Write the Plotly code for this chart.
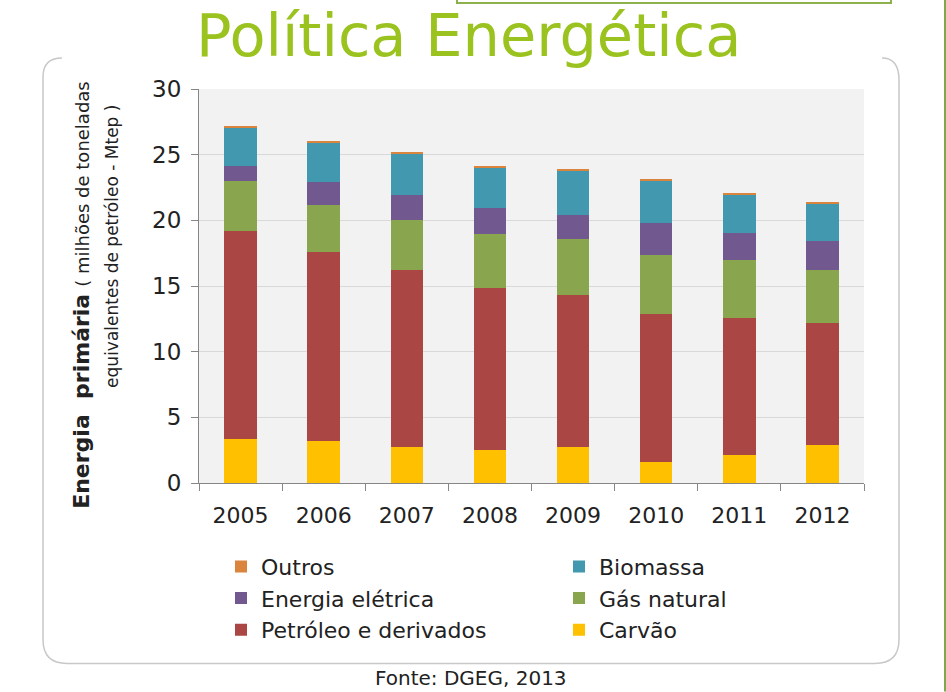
import plotly.graph_objects as go

years = ["2005", "2006", "2007", "2008", "2009", "2010", "2011", "2012"]
carvao = [3.32, 3.22, 2.76, 2.48, 2.74, 1.62, 2.13, 2.86]
petroleo = [15.88, 14.38, 13.47, 12.38, 11.54, 11.24, 10.40, 9.31]
gas_natural = [3.83, 3.58, 3.81, 4.11, 4.29, 4.51, 4.44, 4.06]
energia_eletrica = [1.12, 1.72, 1.90, 2.00, 1.87, 2.44, 2.10, 2.21]
biomassa = [2.91, 3.00, 3.12, 3.08, 3.35, 3.22, 2.89, 2.87]
outros = [0.08, 0.10, 0.10, 0.10, 0.05, 0.05, 0.11, 0.10]
y_ticks = [0, 5, 10, 15, 20, 25, 30]

W, H = 946, 692
L, R, T, B = 199, 864, 89, 483.3


def px(x):
    return (x - L) / (R - L)


def py(y):
    return (B - y) / (B - T)


# name, values, colour, legend column, rank within column
series = [
    ("Carvão", carvao, "#FFC000", "legend2", 3),
    ("Petróleo e derivados", petroleo, "#AA4643", "legend", 3),
    ("Gás natural", gas_natural, "#89A54E", "legend2", 2),
    ("Energia elétrica", energia_eletrica, "#71588F", "legend", 2),
    ("Biomassa", biomassa, "#4198AF", "legend2", 1),
    ("Outros", outros, "#DB843D", "legend", 1),
]

fig = go.Figure()
for name, vals, col, lg, rank in series:
    fig.add_trace(go.Bar(x=years, y=vals, name=name, marker_color=col,
                         marker_line_width=0, legend=lg, legendgroup=name,
                         legendrank=rank))

font_main = "DejaVu Sans, Verdana, sans-serif"
txt = "#222222"

leg_common = dict(xanchor="left", yanchor="top", traceorder="grouped",
                  tracegroupgap=0, itemwidth=30, bgcolor="rgba(0,0,0,0)",
                  font=dict(size=22, family=font_main, color=txt))

fig.update_layout(
    width=W, height=H,
    margin=dict(l=L, r=W - R, t=T, b=H - B, pad=0),
    paper_bgcolor="white", plot_bgcolor="#F2F2F2",
    barmode="stack", bargap=0.61,
    font=dict(family=font_main, color=txt),
    showlegend=True,
    legend=dict(x=px(221), y=py(546), **leg_common),
    legend2=dict(x=px(559), y=py(546), **leg_common),
)

fig.update_xaxes(
    type="category", tickson="boundaries", ticks="outside", ticklen=7,
    tickcolor="#868686", showline=True, linecolor="#868686", linewidth=1,
    showgrid=False, tickfont=dict(size=22, family=font_main, color=txt),
    ticklabelstandoff=13,
)
fig.update_yaxes(
    range=[0, 30], tickvals=y_ticks, ticks="outside", ticklen=7,
    tickcolor="#868686", showline=True, linecolor="#868686", linewidth=1,
    showgrid=True, gridcolor="#D9D9D9", gridwidth=1, zeroline=False,
    tickfont=dict(size=23, family=font_main, color=txt),
    ticklabelstandoff=5,
)

# Title
fig.add_annotation(
    text="Política Energética", xref="paper", yref="paper",
    x=px(468), y=py(-1), xanchor="center", yanchor="top", showarrow=False,
    font=dict(size=59, family="DejaVu Sans, sans-serif", color="#9BC31F"),
)

# Y-axis title (two lines)
fig.add_annotation(
    text="<b>Energia  primária</b> <span style='font-size:18px'>( milhões de toneladas</span>",
    xref="paper", yref="paper", x=px(82), y=py(295), xanchor="center", yanchor="middle",
    textangle=-90, showarrow=False, font=dict(size=22, family=font_main, color=txt),
)
fig.add_annotation(
    text="equivalentes de petróleo - Mtep )",
    xref="paper", yref="paper", x=px(112), y=py(247), xanchor="center", yanchor="middle",
    textangle=-90, showarrow=False, font=dict(size=17, family=font_main, color=txt),
)

# Footer
fig.add_annotation(
    text="Fonte: DGEG, 2013", xref="paper", yref="paper",
    x=px(471), y=py(692), xanchor="center", yanchor="bottom", showarrow=False,
    font=dict(size=20, family=font_main, color=txt),
)


def P(x, y):
    return f"{px(x):.5f},{py(y):.5f}"


frame = (f"M {P(62,58)} Q {P(43,58)} {P(43,77)} L {P(43,640)} Q {P(43,664)} {P(67,664)} "
         f"L {P(875,664)} Q {P(899,664)} {P(899,640)} L {P(899,80)} Q {P(899,58)} {P(882,58)}")
fig.add_shape(type="path", path=frame, xref="paper", yref="paper",
              line=dict(color="#C8C8C8", width=1.5), layer="below")

# green decorations
fig.add_shape(type="path", xref="paper", yref="paper",
              path=f"M {P(457,-5)} L {P(457,3)} L {P(891,3)} L {P(891,-5)}",
              line=dict(color="#8CB04B", width=2))
fig.add_shape(type="line", xref="paper", yref="paper",
              x0=px(945), x1=px(945), y0=py(0), y1=py(692),
              line=dict(color="#7FA84A", width=2))

fig.write_html(
    "out.html",
    config={"displayModeBar": False},
    post_script="document.body.style.margin='0px';document.body.style.overflow='hidden';",
)
